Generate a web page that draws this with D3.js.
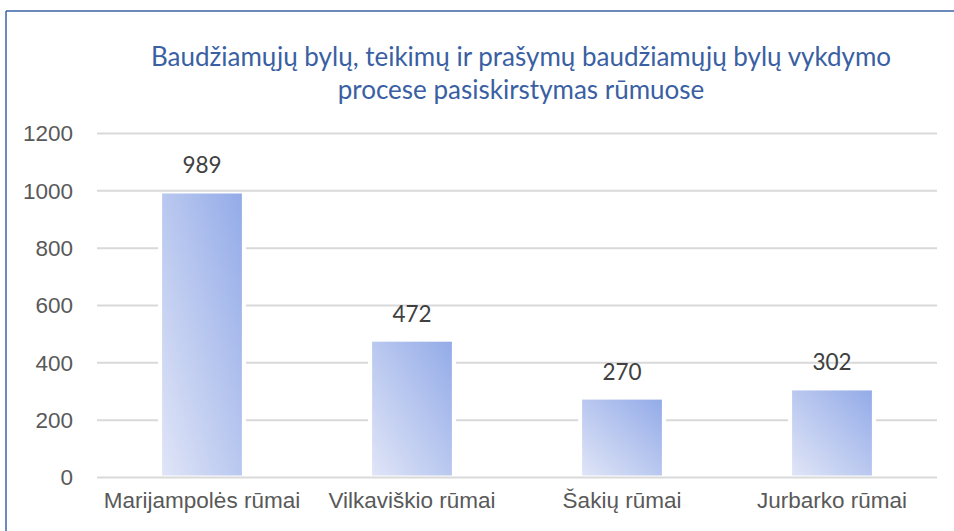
<!DOCTYPE html>
<html>
<head>
<meta charset="utf-8">
<script src="https://cdn.jsdelivr.net/npm/d3@7"></script>
<style>
  body { margin: 0; background: #fff; }
  svg { display: block; font-family: Lato, "Open Sans", sans-serif; }
  .axis path { display: none; }
  .axis line { stroke: #d9d9d9; stroke-width: 2; }
  .axis text { fill: #595959; font-size: 22.5px; }
</style>
</head>
<body>
<svg id="chart"></svg>
<script>
// data
const courts = ["Marijampolės rūmai", "Vilkaviškio rūmai", "Šakių rūmai", "Jurbarko rūmai"];
const counts = [989, 472, 270, 302];
const yTicks = [0, 200, 400, 600, 800, 1000, 1200];
const titleLines = [
  "Baudžiamųjų bylų, teikimų ir prašymų baudžiamųjų bylų vykdymo",
  "procese pasiskirstymas rūmuose"
];

const data = courts.map((c, i) => ({ key: c, count: counts[i] }));

const config = {
  width: 954,
  height: 531,
  margin: { top: 133, right: 17, bottom: 54, left: 97 }
};

const width = config.width - config.margin.left - config.margin.right;
const height = config.height - config.margin.top - config.margin.bottom;

const svg = d3.select("#chart")
  .attr("width", config.width)
  .attr("height", config.height);

// gradient for the bars (light bottom-left, darker top-right)
const grad = svg.append("defs").append("linearGradient")
  .attr("id", "barGrad")
  .attr("x1", 0).attr("y1", 1)
  .attr("x2", 1).attr("y2", 0);
grad.append("stop").attr("offset", "0%").attr("stop-color", "#e0e5f7");
grad.append("stop").attr("offset", "100%").attr("stop-color", "#93abe8");

// frame lines (chart area is cropped on right/bottom)
svg.append("line")
  .attr("x1", 6).attr("x2", config.width).attr("y1", 11).attr("y2", 11)
  .attr("stroke", "#3b62a8").attr("stroke-width", 1.5);
svg.append("line")
  .attr("x1", 6).attr("x2", 6).attr("y1", 11).attr("y2", config.height)
  .attr("stroke", "#3b62a8").attr("stroke-width", 1.5);

// title
svg.append("text")
  .attr("text-anchor", "middle")
  .attr("fill", "#3a5fa3")
  .attr("font-size", 26)
  .selectAll("tspan")
  .data(titleLines)
  .join("tspan")
  .attr("x", 521)
  .attr("y", (d, i) => 66 + i * 33)
  .text(d => d);

const chart = svg.append("g")
  .attr("transform", `translate(${config.margin.left},${config.margin.top})`);

const xScale = d3.scaleBand()
  .domain(courts)
  .range([0, width])
  .paddingInner(0.62)
  .paddingOuter(0.31);

const yScale = d3.scaleLinear()
  .domain([0, 1200])
  .range([height, 0]);

// gridlines + y labels
const yAxis = d3.axisLeft(yScale)
  .tickValues(yTicks)
  .tickFormat(d3.format("d"))
  .tickSize(-width)
  .tickPadding(24)
  .tickSizeOuter(0);

const yAxisG = chart.append("g").attr("class", "axis y-axis").call(yAxis);
yAxisG.selectAll("text").attr("dy", "0.35em");

// x labels
const xAxis = d3.axisBottom(xScale).tickSize(0).tickPadding(15);
chart.append("g")
  .attr("class", "axis x-axis")
  .attr("transform", `translate(0,${height})`)
  .call(xAxis);

// white gap behind bars cuts the gridlines at the sides
chart.selectAll(".bar-gap")
  .data(data)
  .join("rect")
  .attr("class", "bar-gap")
  .attr("x", d => xScale(d.key) - 4)
  .attr("width", xScale.bandwidth() + 8)
  .attr("y", d => yScale(d.count))
  .attr("height", d => height - 1 - yScale(d.count))
  .attr("fill", "#fff");

chart.selectAll(".bar")
  .data(data)
  .join("rect")
  .attr("class", "bar")
  .attr("x", d => xScale(d.key))
  .attr("width", xScale.bandwidth())
  .attr("y", d => yScale(d.count))
  .attr("height", d => height - 1.5 - yScale(d.count))
  .attr("fill", "url(#barGrad)");

// value labels
chart.selectAll(".value-label")
  .data(data)
  .join("text")
  .attr("class", "value-label")
  .attr("x", d => xScale(d.key) + xScale.bandwidth() / 2)
  .attr("y", d => yScale(d.count) - 20)
  .attr("text-anchor", "middle")
  .attr("fill", "#404040")
  .attr("font-size", 22.5)
  .text(d => d.count);
</script>
</body>
</html>
